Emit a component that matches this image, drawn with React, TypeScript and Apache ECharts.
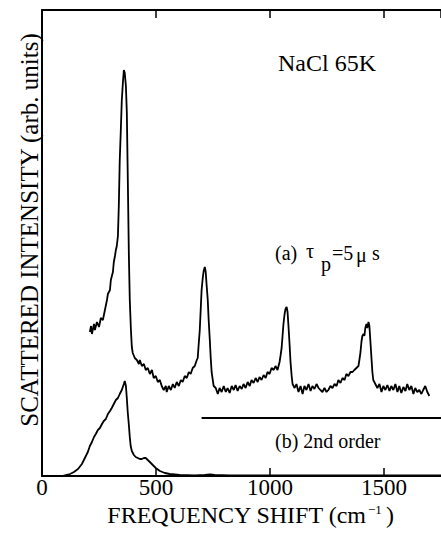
import React, { useEffect, useRef } from "react";
import * as echarts from "echarts";

// Spectrum (a): tau_p = 5 us, frequency shift (cm^-1) and intensity (arb. units)
const aShift = [
  210, 215, 219, 228, 232, 241, 250, 258, 267, 276, 285, 289, 298, 302, 311, 315, 320, 324, 328, 333,
  337, 341, 346, 350, 355, 359, 363, 368, 372, 377, 381, 385, 390, 394, 398, 407, 416, 425, 429, 438,
  447, 455, 464, 473, 482, 490, 499, 508, 517, 525, 534, 543, 547, 556, 565, 574, 582, 591, 600, 609,
  617, 626, 635, 644, 652, 661, 670, 679, 683, 687, 692, 696, 700, 705, 709, 714, 718, 722, 727, 731,
  736, 740, 744, 749, 753, 762, 771, 779, 788, 797, 806, 814, 823, 832, 841, 849, 858, 867, 876, 884,
  893, 902, 911, 919, 928, 937, 946, 954, 963, 972, 981, 989, 998, 1007, 1016, 1024, 1033, 1042, 1046, 1051,
  1055, 1059, 1064, 1068, 1073, 1077, 1081, 1086, 1090, 1095, 1099, 1108, 1116, 1125, 1134, 1143, 1151, 1160, 1169, 1178,
  1186, 1195, 1204, 1213, 1221, 1230, 1239, 1248, 1256, 1265, 1274, 1283, 1292, 1300, 1309, 1318, 1327, 1335, 1344, 1353,
  1362, 1370, 1379, 1388, 1392, 1397, 1401, 1405, 1410, 1414, 1418, 1423, 1427, 1432, 1436, 1440, 1445, 1449, 1453, 1462,
  1471, 1480, 1489, 1497, 1506, 1515, 1524, 1532, 1541, 1550, 1559, 1567, 1576, 1585, 1594, 1602, 1611, 1620, 1629, 1637,
  1646, 1655, 1664, 1672, 1681, 1690, 1699,
];
const aIntensity = [
  144, 150, 142, 152, 146, 154, 149, 158, 156, 166, 176, 182, 186, 196, 204, 214, 220, 226, 230, 240,
  271, 316, 348, 376, 394, 406, 403, 390, 364, 286, 221, 176, 146, 129, 123, 118, 116, 112, 116, 110,
  112, 106, 108, 102, 106, 98, 100, 94, 96, 90, 86, 90, 84, 90, 86, 92, 88, 94, 90, 96,
  94, 100, 98, 104, 102, 108, 110, 116, 118, 131, 146, 166, 186, 198, 205, 209, 204, 191, 176, 156,
  136, 118, 104, 96, 90, 88, 82, 88, 84, 90, 84, 88, 83, 90, 86, 91, 85, 90, 87, 92,
  88, 94, 90, 96, 93, 98, 94, 99, 96, 101, 98, 104, 102, 108, 106, 110, 106, 114, 120, 128,
  140, 152, 162, 167, 169, 164, 150, 131, 114, 100, 92, 88, 92, 84, 90, 82, 90, 86, 92, 85,
  90, 87, 92, 88, 86, 84, 88, 84, 86, 90, 88, 92, 90, 96, 93, 98, 96, 102, 100, 104,
  104, 106, 108, 110, 116, 124, 134, 140, 142, 140, 148, 152, 148, 154, 150, 136, 118, 104, 96, 92,
  88, 92, 84, 90, 86, 91, 85, 90, 86, 92, 84, 90, 83, 89, 85, 92, 86, 90, 82, 88,
  84, 86, 82, 86, 90, 84, 80,
];

// Spectrum (b): 2nd order
const bShift = [
  88, 105, 123, 140, 158, 175, 188, 201, 210, 219, 228, 236, 245, 254, 263, 271, 280, 289, 298, 306,
  315, 324, 333, 341, 350, 359, 363, 368, 372, 376, 381, 385, 389, 394, 403, 411, 420, 429, 438, 447,
  455, 464, 473, 486, 499, 517, 539, 560, 604, 670, 714, 736, 757, 823, 1000, 1300, 1750,
];
const bIntensity = [
  0, 1, 2, 4, 7, 12, 18, 24, 30, 34, 39, 42, 46, 48, 52, 55, 57, 62, 65, 68,
  72, 76, 78, 82, 86, 92, 95, 90, 78, 64, 51, 39, 30, 25, 21, 19, 18, 17, 17, 18,
  18, 16, 14, 11, 8, 5, 3, 2, 1, 0.5, 1, 1.5, 1, 0.5, 0.5, 0.5, 0.5,
];

// Divider between the two spectra labels
const dividerShift = [700, 1750];
const dividerLevel = 58;

const xTicks = [0, 500, 1000, 1500];
const xMin = 0;
const xMax = 1750;
const yMax = 466;

const FONT = "Liberation Serif";

export default function App() {
  const ref = useRef<HTMLDivElement>(null);
  useEffect(() => {
    if (!ref.current) return;
    const chart = echarts.init(ref.current, undefined, { renderer: "svg" });
    const black = "#000";
    const txt = (x: number, y: number, text: string, size: number, align = "left", extra: any = {}) => ({
      type: "text",
      x,
      y,
      ...extra,
      style: {
        text,
        fill: black,
        fontFamily: FONT,
        fontSize: size,
        align,
        verticalAlign: "middle",
      },
    });
    chart.setOption({
      animation: false,
      backgroundColor: "#fff",
      textStyle: { fontFamily: FONT },
      grid: { left: 42, top: 10, width: 400, height: 466 },
      xAxis: [
        {
          type: "value",
          min: xMin,
          max: xMax,
          interval: 500,
          position: "bottom",
          axisLine: { show: true, lineStyle: { color: black, width: 2 } },
          axisTick: { show: true, inside: true, length: 8, lineStyle: { color: black, width: 1.5 } },
          axisLabel: {
            show: true,
            color: black,
            fontFamily: FONT,
            fontSize: 23,
            lineHeight: 20,
            margin: 1,
            showMaxLabel: false,
            formatter: (v: number) => (xTicks.includes(v) ? String(v) : ""),
          },
          splitLine: { show: false },
        },
        {
          type: "value",
          min: xMin,
          max: xMax,
          interval: 500,
          position: "top",
          axisLine: { show: true, lineStyle: { color: black, width: 2 } },
          axisTick: { show: true, inside: true, length: 8, lineStyle: { color: black, width: 1.5 } },
          axisLabel: { show: false },
          splitLine: { show: false },
        },
      ],
      yAxis: {
        type: "value",
        min: 0,
        max: yMax,
        axisLine: { show: true, lineStyle: { color: black, width: 2 } },
        axisTick: { show: false },
        axisLabel: { show: false },
        splitLine: { show: false },
      },
      series: [
        {
          type: "line",
          data: aShift.map((x, i) => [x, aIntensity[i]]),
          showSymbol: false,
          lineStyle: { color: black, width: 1.8 },
          z: 3,
        },
        {
          type: "line",
          data: bShift.map((x, i) => [x, bIntensity[i]]),
          showSymbol: false,
          lineStyle: { color: black, width: 1.8 },
          z: 3,
        },
        {
          type: "line",
          data: dividerShift.map((x) => [x, dividerLevel]),
          showSymbol: false,
          lineStyle: { color: black, width: 1.8 },
          z: 3,
        },
      ],
      graphic: [
        txt(327, 63, "NaCl 65K", 24, "center"),
        txt(275, 253, "(a)", 20),
        txt(306, 251, "τ", 20),
        txt(321, 264, "p", 20),
        txt(332, 253, "=5", 20),
        txt(356, 255, "μ", 20),
        txt(372, 253, "s", 20),
        txt(275, 441, "(b) 2nd order", 20),
        txt(366, 515, "FREQUENCY SHIFT (cm", 24, "right"),
        txt(368, 509, "−1", 13),
        txt(386, 515, ")", 24),
        txt(29, 230, "SCATTERED INTENSITY (arb. units)", 25, "center", { rotation: Math.PI / 2 }),
      ],
    });
    return () => chart.dispose();
  }, []);
  return (
    <div
      ref={ref}
      style={{ position: "fixed", left: 0, top: 0, width: 441, height: 534, background: "#fff" }}
    />
  );
}
